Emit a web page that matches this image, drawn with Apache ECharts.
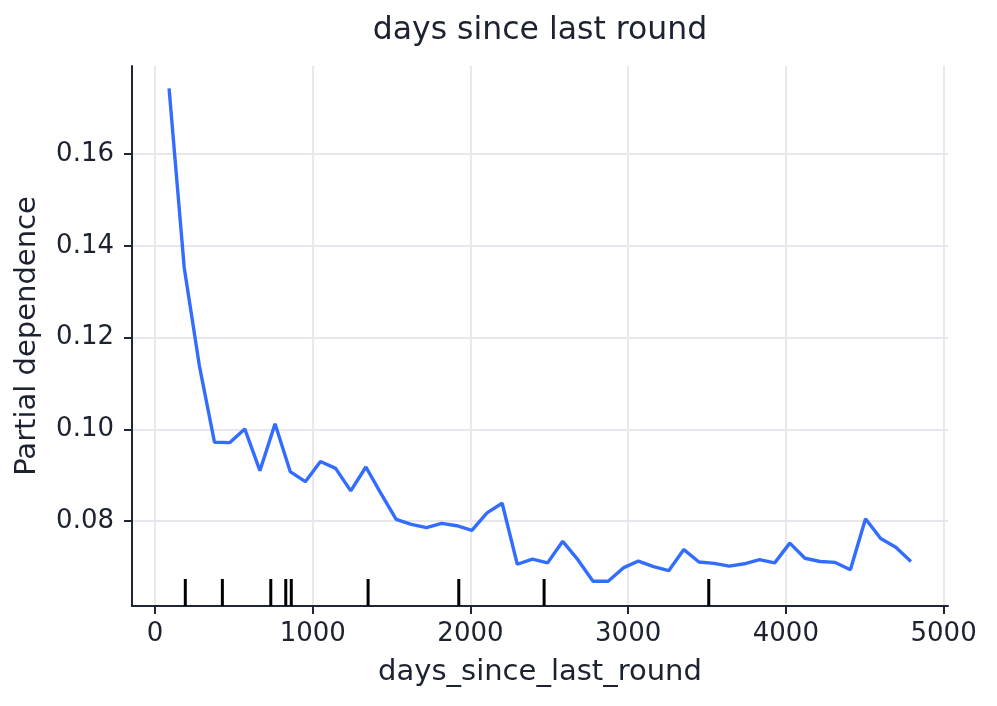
<!DOCTYPE html>
<html>
<head>
<meta charset="utf-8">
<script src="https://cdn.jsdelivr.net/npm/echarts@6/dist/echarts.min.js"></script>
<style>
html,body{margin:0;padding:0;background:#fff;}
#chart{width:997px;height:706px;}
</style>
</head>
<body>
<div id="chart"></div>
<script>
// ---- data ----
const xValues = [89, 185, 281, 377, 473, 569, 665, 761, 857, 953,
  1049, 1145, 1241, 1337, 1433, 1529, 1625, 1721, 1817, 1913,
  2009, 2105, 2201, 2297, 2393, 2489, 2585, 2681, 2777, 2873,
  2969, 3065, 3161, 3257, 3353, 3449, 3545, 3641, 3737, 3833,
  3929, 4025, 4121, 4217, 4313, 4409, 4505, 4601, 4697, 4793];
const pdValues = [0.1743, 0.1353, 0.1139, 0.0972, 0.0971, 0.1001, 0.0910, 0.1012, 0.0908, 0.0886,
  0.0930, 0.0915, 0.0866, 0.0918, 0.0860, 0.0804, 0.0793, 0.0786, 0.0795, 0.0790,
  0.0780, 0.0818, 0.0839, 0.0706, 0.0717, 0.0709, 0.0756, 0.0716, 0.0669, 0.0669,
  0.0698, 0.0713, 0.0701, 0.0692, 0.0738, 0.0711, 0.0708, 0.0702, 0.0707, 0.0716,
  0.0709, 0.0752, 0.0719, 0.0712, 0.0710, 0.0694, 0.0805, 0.0762, 0.0743, 0.0712];
const rugValues = [192, 427, 734, 829, 864, 1351, 1926, 2467, 3511];
const xTicks = [0, 1000, 2000, 3000, 4000, 5000];
const yTicks = [0.08, 0.10, 0.12, 0.14, 0.16];
const xMin = -146, xMax = 5028;
const yMin = 0.0615, yMax = 0.1792;

// ---- chart ----
const textColor = '#1c2230';
const axisColor = '#1f2638';
const gridColor = '#e6e6ec';
const chart = echarts.init(document.getElementById('chart'), null, {renderer: 'canvas'});
const rugHeight = 0.05 * (yMax - yMin);

chart.setOption({
  animation: false,
  backgroundColor: '#ffffff',
  textStyle: {fontFamily: 'DejaVu Sans'},
  title: {
    text: 'days since last round',
    left: 540, top: 15, padding: 0,
    textAlign: 'center',
    textStyle: {fontFamily: 'DejaVu Sans', fontSize: 31.5, fontWeight: 'normal', color: textColor}
  },
  grid: {left: 132, right: 49, top: 66, bottom: 100, outerBoundsMode: 'none'},
  xAxis: {
    type: 'value', min: xMin, max: xMax,
    name: 'days_since_last_round', nameLocation: 'middle', nameGap: 52,
    nameTextStyle: {fontFamily: 'DejaVu Sans', fontSize: 29, color: textColor},
    axisLine: {show: true, onZero: false, lineStyle: {color: axisColor, width: 2}},
    axisTick: {show: true, length: 8, lineStyle: {color: axisColor, width: 2}, customValues: xTicks},
    axisLabel: {customValues: xTicks, margin: 15, fontSize: 26, color: textColor, fontFamily: 'DejaVu Sans',
      formatter: v => String(Math.round(v))},
    splitLine: {show: true, lineStyle: {color: gridColor, width: 1.8}}
  },
  yAxis: {
    type: 'value', min: yMin, max: yMax,
    name: 'Partial dependence', nameLocation: 'middle', nameGap: 90, nameRotate: 90,
    nameTextStyle: {fontFamily: 'DejaVu Sans', fontSize: 29, color: textColor},
    axisLine: {show: true, onZero: false, lineStyle: {color: axisColor, width: 2}},
    axisTick: {show: true, length: 8, lineStyle: {color: axisColor, width: 2}, customValues: yTicks},
    axisLabel: {customValues: yTicks, margin: 18, fontSize: 26, color: textColor, fontFamily: 'DejaVu Sans',
      formatter: v => v.toFixed(2)},
    splitLine: {show: true, lineStyle: {color: gridColor, width: 1.8}}
  },
  series: [
    {
      type: 'line',
      data: xValues.map((x, i) => [x, pdValues[i]]),
      showSymbol: false,
      lineStyle: {color: '#336dff', width: 3.4},
      z: 3
    },
    {
      type: 'custom',
      data: rugValues.map(v => [v, yMin]),
      renderItem: (params, api) => {
        const x = api.value(0);
        const p0 = api.coord([x, yMin]);
        const p1 = api.coord([x, yMin + rugHeight]);
        return {
          type: 'line',
          shape: {x1: p0[0], y1: p0[1], x2: p1[0], y2: p1[1]},
          style: {stroke: '#000000', lineWidth: 3}
        };
      },
      z: 4
    }
  ]
});
</script>
</body>
</html>
